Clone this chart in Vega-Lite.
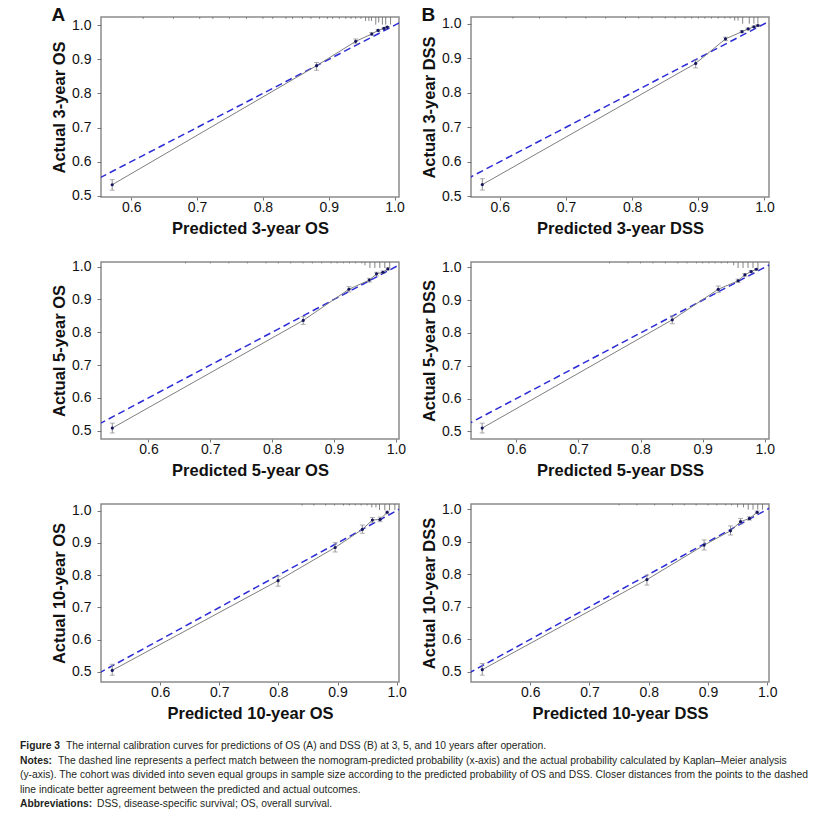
{
  "$schema": "https://vega.github.io/schema/vega-lite/v6.json",
  "padding": {"left": 20, "top": 4, "right": 5, "bottom": 5},
  "background": "white",
  "config": {
    "font": "Liberation Sans",
    "view": {"stroke": "#8c8c8c", "strokeWidth": 1.5},
    "axis": {"grid": false, "domain": false, "labelFont": "Liberation Sans", "labelFontSize": 14, "labelColor": "#111", "tickColor": "#777", "tickSize": 4, "titleFont": "Liberation Sans", "titleFontSize": 16.5, "titleFontWeight": "bold", "titleColor": "#111", "labelOverlap": false, "labelFlush": false},
    "axisX": {"tickSize": 3, "labelPadding": 0, "titlePadding": 6},
    "axisY": {"labelPadding": 6, "titlePadding": 4},
    "title": {"anchor": "start", "frame": "bounds", "fontSize": 19, "fontWeight": "bold", "font": "Liberation Sans", "color": "#111", "baseline": "alphabetic", "offset": -8}
  },
  "datasets": {
    "dash": [{"p": 0.3, "a": 0.3}, {"p": 1.2, "a": 1.2}],
    "pts": [
      {"panel": "A", "p": 0.571, "a": 0.532, "lo": 0.516, "hi": 0.547},
      {"panel": "A", "p": 0.8816, "a": 0.8816, "lo": 0.868, "hi": 0.891},
      {"panel": "A", "p": 0.941, "a": 0.953, "lo": 0.946, "hi": 0.96},
      {"panel": "A", "p": 0.9654, "a": 0.9746, "lo": 0.971, "hi": 0.979},
      {"panel": "A", "p": 0.975, "a": 0.985, "lo": 0.982, "hi": 0.988},
      {"panel": "A", "p": 0.984, "a": 0.991, "lo": 0.989, "hi": 0.993},
      {"panel": "A", "p": 0.989, "a": 0.995, "lo": 0.993, "hi": 0.997},
      {"panel": "B", "p": 0.5736, "a": 0.534, "lo": 0.518, "hi": 0.551},
      {"panel": "B", "p": 0.896, "a": 0.885, "lo": 0.872, "hi": 0.895},
      {"panel": "B", "p": 0.941, "a": 0.956, "lo": 0.951, "hi": 0.961},
      {"panel": "B", "p": 0.966, "a": 0.977, "lo": 0.974, "hi": 0.98},
      {"panel": "B", "p": 0.9753, "a": 0.985, "lo": 0.983, "hi": 0.987},
      {"panel": "B", "p": 0.984, "a": 0.991, "lo": 0.989, "hi": 0.993},
      {"panel": "B", "p": 0.99, "a": 0.995, "lo": 0.993, "hi": 0.997},
      {"panel": "C", "p": 0.5416, "a": 0.508, "lo": 0.493, "hi": 0.523},
      {"panel": "C", "p": 0.8502, "a": 0.836, "lo": 0.824, "hi": 0.848},
      {"panel": "C", "p": 0.924, "a": 0.931, "lo": 0.923, "hi": 0.939},
      {"panel": "C", "p": 0.957, "a": 0.959, "lo": 0.953, "hi": 0.9645},
      {"panel": "C", "p": 0.9686, "a": 0.978, "lo": 0.972, "hi": 0.983},
      {"panel": "C", "p": 0.979, "a": 0.983, "lo": 0.979, "hi": 0.987},
      {"panel": "C", "p": 0.987, "a": 0.993, "lo": 0.99, "hi": 0.996},
      {"panel": "D", "p": 0.545, "a": 0.51, "lo": 0.495, "hi": 0.525},
      {"panel": "D", "p": 0.851, "a": 0.84, "lo": 0.828, "hi": 0.852},
      {"panel": "D", "p": 0.925, "a": 0.933, "lo": 0.923, "hi": 0.943},
      {"panel": "D", "p": 0.957, "a": 0.959, "lo": 0.954, "hi": 0.964},
      {"panel": "D", "p": 0.968, "a": 0.977, "lo": 0.973, "hi": 0.981},
      {"panel": "D", "p": 0.978, "a": 0.987, "lo": 0.984, "hi": 0.99},
      {"panel": "D", "p": 0.9865, "a": 0.994, "lo": 0.992, "hi": 0.996},
      {"panel": "E", "p": 0.519, "a": 0.505, "lo": 0.49, "hi": 0.524},
      {"panel": "E", "p": 0.7995, "a": 0.783, "lo": 0.766, "hi": 0.797},
      {"panel": "E", "p": 0.896, "a": 0.886, "lo": 0.872, "hi": 0.901},
      {"panel": "E", "p": 0.942, "a": 0.942, "lo": 0.93, "hi": 0.9555},
      {"panel": "E", "p": 0.959, "a": 0.971, "lo": 0.964, "hi": 0.979},
      {"panel": "E", "p": 0.972, "a": 0.973, "lo": 0.966, "hi": 0.98},
      {"panel": "E", "p": 0.984, "a": 0.995, "lo": 0.99, "hi": 0.999},
      {"panel": "F", "p": 0.519, "a": 0.507, "lo": 0.49, "hi": 0.526},
      {"panel": "F", "p": 0.797, "a": 0.784, "lo": 0.767, "hi": 0.798},
      {"panel": "F", "p": 0.8935, "a": 0.89, "lo": 0.875, "hi": 0.906},
      {"panel": "F", "p": 0.938, "a": 0.934, "lo": 0.921, "hi": 0.949},
      {"panel": "F", "p": 0.955, "a": 0.962, "lo": 0.955, "hi": 0.972},
      {"panel": "F", "p": 0.97, "a": 0.972, "lo": 0.967, "hi": 0.977},
      {"panel": "F", "p": 0.983, "a": 0.991, "lo": 0.987, "hi": 0.995}
    ],
    "rug": [
      {"panel": "A", "p": 0.618, "a": 1.019}, {"panel": "A", "p": 0.664, "a": 1.019}, {"panel": "A", "p": 0.704, "a": 1.019}, {"panel": "A", "p": 0.724, "a": 1.019}, {"panel": "A", "p": 0.749, "a": 1.019}, {"panel": "A", "p": 0.775, "a": 1.019}, {"panel": "A", "p": 0.8, "a": 1.019}, {"panel": "A", "p": 0.815, "a": 1.019}, {"panel": "A", "p": 0.835, "a": 1.019}, {"panel": "A", "p": 0.845, "a": 1.019}, {"panel": "A", "p": 0.86, "a": 1.019}, {"panel": "A", "p": 0.873, "a": 1.019}, {"panel": "A", "p": 0.886, "a": 1.019}, {"panel": "A", "p": 0.898, "a": 1.019}, {"panel": "A", "p": 0.906, "a": 1.019}, {"panel": "A", "p": 0.916, "a": 1.019}, {"panel": "A", "p": 0.926, "a": 1.019}, {"panel": "A", "p": 0.934, "a": 1.019}, {"panel": "A", "p": 0.941, "a": 1.019}, {"panel": "A", "p": 0.949, "a": 1.019},
      {"panel": "A", "p": 0.956, "a": 1.013}, {"panel": "A", "p": 0.961, "a": 1.013}, {"panel": "A", "p": 0.965, "a": 1.013},
      {"panel": "A", "p": 0.9715, "a": 1.002}, {"panel": "A", "p": 0.976, "a": 1.008}, {"panel": "A", "p": 0.9816, "a": 1.002}, {"panel": "A", "p": 0.9866, "a": 1.002}, {"panel": "A", "p": 0.994, "a": 1.002},
      {"panel": "B", "p": 0.62, "a": 1.015}, {"panel": "B", "p": 0.66, "a": 1.015}, {"panel": "B", "p": 0.7, "a": 1.015}, {"panel": "B", "p": 0.73, "a": 1.015}, {"panel": "B", "p": 0.76, "a": 1.015}, {"panel": "B", "p": 0.79, "a": 1.015}, {"panel": "B", "p": 0.81, "a": 1.015}, {"panel": "B", "p": 0.83, "a": 1.015}, {"panel": "B", "p": 0.85, "a": 1.015}, {"panel": "B", "p": 0.865, "a": 1.015}, {"panel": "B", "p": 0.88, "a": 1.015}, {"panel": "B", "p": 0.89, "a": 1.015}, {"panel": "B", "p": 0.9, "a": 1.015}, {"panel": "B", "p": 0.91, "a": 1.015}, {"panel": "B", "p": 0.92, "a": 1.015}, {"panel": "B", "p": 0.93, "a": 1.015}, {"panel": "B", "p": 0.94, "a": 1.015}, {"panel": "B", "p": 0.948, "a": 1.015},
      {"panel": "B", "p": 0.955, "a": 1.009}, {"panel": "B", "p": 0.96, "a": 1.009},
      {"panel": "B", "p": 0.967, "a": 1.0}, {"panel": "B", "p": 0.977, "a": 1.0}, {"panel": "B", "p": 0.984, "a": 1.0}, {"panel": "B", "p": 0.99, "a": 1.0},
      {"panel": "C", "p": 0.66, "a": 1.01}, {"panel": "C", "p": 0.7, "a": 1.01}, {"panel": "C", "p": 0.73, "a": 1.01}, {"panel": "C", "p": 0.76, "a": 1.01}, {"panel": "C", "p": 0.79, "a": 1.01}, {"panel": "C", "p": 0.81, "a": 1.01}, {"panel": "C", "p": 0.83, "a": 1.01}, {"panel": "C", "p": 0.85, "a": 1.01}, {"panel": "C", "p": 0.865, "a": 1.01}, {"panel": "C", "p": 0.88, "a": 1.01}, {"panel": "C", "p": 0.895, "a": 1.01}, {"panel": "C", "p": 0.905, "a": 1.01}, {"panel": "C", "p": 0.915, "a": 1.01}, {"panel": "C", "p": 0.925, "a": 1.01}, {"panel": "C", "p": 0.935, "a": 1.01}, {"panel": "C", "p": 0.945, "a": 1.01},
      {"panel": "C", "p": 0.95, "a": 1.004},
      {"panel": "C", "p": 0.958, "a": 0.996}, {"panel": "C", "p": 0.966, "a": 0.996}, {"panel": "C", "p": 0.974, "a": 0.996}, {"panel": "C", "p": 0.982, "a": 0.996}, {"panel": "C", "p": 0.99, "a": 0.996},
      {"panel": "D", "p": 0.75, "a": 1.012}, {"panel": "D", "p": 0.78, "a": 1.012}, {"panel": "D", "p": 0.8, "a": 1.012}, {"panel": "D", "p": 0.82, "a": 1.012}, {"panel": "D", "p": 0.84, "a": 1.012}, {"panel": "D", "p": 0.86, "a": 1.012}, {"panel": "D", "p": 0.875, "a": 1.012}, {"panel": "D", "p": 0.89, "a": 1.012}, {"panel": "D", "p": 0.9, "a": 1.012}, {"panel": "D", "p": 0.91, "a": 1.012}, {"panel": "D", "p": 0.92, "a": 1.012}, {"panel": "D", "p": 0.93, "a": 1.012}, {"panel": "D", "p": 0.94, "a": 1.012}, {"panel": "D", "p": 0.95, "a": 1.006},
      {"panel": "D", "p": 0.957, "a": 0.998}, {"panel": "D", "p": 0.965, "a": 0.998}, {"panel": "D", "p": 0.973, "a": 0.998}, {"panel": "D", "p": 0.981, "a": 0.998}, {"panel": "D", "p": 0.989, "a": 0.998},
      {"panel": "E", "p": 0.84, "a": 1.016}, {"panel": "E", "p": 0.86, "a": 1.016}, {"panel": "E", "p": 0.88, "a": 1.016}, {"panel": "E", "p": 0.895, "a": 1.016}, {"panel": "E", "p": 0.91, "a": 1.016}, {"panel": "E", "p": 0.92, "a": 1.016}, {"panel": "E", "p": 0.93, "a": 1.016}, {"panel": "E", "p": 0.94, "a": 1.016}, {"panel": "E", "p": 0.95, "a": 1.016}, {"panel": "E", "p": 0.958, "a": 1.01}, {"panel": "E", "p": 0.965, "a": 1.01},
      {"panel": "E", "p": 0.971, "a": 1.002}, {"panel": "E", "p": 0.98, "a": 1.002}, {"panel": "E", "p": 0.988, "a": 1.002}, {"panel": "E", "p": 0.997, "a": 1.002},
      {"panel": "F", "p": 0.75, "a": 1.012}, {"panel": "F", "p": 0.78, "a": 1.012}, {"panel": "F", "p": 0.81, "a": 1.012}, {"panel": "F", "p": 0.84, "a": 1.012}, {"panel": "F", "p": 0.86, "a": 1.012}, {"panel": "F", "p": 0.88, "a": 1.012}, {"panel": "F", "p": 0.9, "a": 1.012}, {"panel": "F", "p": 0.915, "a": 1.012}, {"panel": "F", "p": 0.93, "a": 1.012}, {"panel": "F", "p": 0.94, "a": 1.012}, {"panel": "F", "p": 0.95, "a": 1.006}, {"panel": "F", "p": 0.96, "a": 1.006},
      {"panel": "F", "p": 0.968, "a": 0.999}, {"panel": "F", "p": 0.976, "a": 0.999}, {"panel": "F", "p": 0.984, "a": 0.999}, {"panel": "F", "p": 0.992, "a": 0.999}
    ],
    "cap": [
      {"line": 1, "lead": "Figure 3", "rest": "The internal calibration curves for predictions of OS (A) and DSS (B) at 3, 5, and 10 years after operation."},
      {"line": 2, "lead": "Notes:", "rest": "The dashed line represents a perfect match between the nomogram-predicted probability (x-axis) and the actual probability calculated by Kaplan–Meier analysis"},
      {"line": 3, "lead": "", "rest": "(y-axis). The cohort was divided into seven equal groups in sample size according to the predicted probability of OS and DSS. Closer distances from the points to the dashed"},
      {"line": 4, "lead": "", "rest": "line indicate better agreement between the predicted and actual outcomes."},
      {"line": 5, "lead": "Abbreviations:", "rest": "DSS, disease-specific survival; OS, overall survival."}
    ]
  },
  "columns": 2,
  "spacing": {"row": 65, "column": 72},
  "bounds": "flush",
  "align": "each",
  "concat": [
    {
      "width": 298, "height": 180,
      "title": {"text": "A"},
      "encoding": {
        "x": {"field": "p", "type": "quantitative", "title": "Predicted 3-year OS", "scale": {"domain": [0.554, 1.0068], "nice": false, "zero": false}, "axis": {"values": [0.6, 0.7, 0.8, 0.9, 1.0], "format": ".1f"}},
        "y": {"field": "a", "type": "quantitative", "title": "Actual 3-year OS", "scale": {"domain": [0.496, 1.0245], "nice": false, "zero": false}, "axis": {"values": [0.5, 0.6, 0.7, 0.8, 0.9, 1.0], "format": ".1f"}}
      },
      "layer": [
        {"data": {"name": "rug"}, "transform": [{"filter": "datum.panel === 'A'"}], "mark": {"type": "rule", "color": "#666", "strokeWidth": 0.8, "clip": true}, "encoding": {"y2": {"datum": 1.0245}}},
        {"data": {"name": "dash"}, "mark": {"type": "line", "color": "#2b2bd6", "strokeWidth": 1.5, "strokeDash": [7, 4], "clip": true}},
        {"data": {"name": "pts"}, "transform": [{"filter": "datum.panel === 'A'"}], "mark": {"type": "line", "color": "#7f7f7f", "strokeWidth": 1}},
        {"data": {"name": "pts"}, "transform": [{"filter": "datum.panel === 'A'"}, {"fold": ["lo", "hi"], "as": ["end", "a"]}], "mark": {"type": "line", "color": "#8f8f8f", "strokeWidth": 1}, "encoding": {"detail": {"field": "p", "type": "nominal"}}},
        {"data": {"name": "pts"}, "transform": [{"filter": "datum.panel === 'A'"}, {"fold": ["lo", "hi"], "as": ["end", "a"]}], "mark": {"type": "tick", "orient": "horizontal", "color": "#8f8f8f", "size": 5, "thickness": 1}},
        {"data": {"name": "pts"}, "transform": [{"filter": "datum.panel === 'A'"}], "mark": {"type": "point", "filled": true, "color": "#15155e", "size": 10, "opacity": 1}}
      ]
    },
    {
      "width": 298, "height": 180,
      "title": {"text": "B"},
      "encoding": {
        "x": {"field": "p", "type": "quantitative", "title": "Predicted 3-year DSS", "scale": {"domain": [0.5565, 1.0068], "nice": false, "zero": false}, "axis": {"values": [0.6, 0.7, 0.8, 0.9, 1.0], "format": ".1f"}},
        "y": {"field": "a", "type": "quantitative", "title": "Actual 3-year DSS", "scale": {"domain": [0.498, 1.0195], "nice": false, "zero": false}, "axis": {"values": [0.5, 0.6, 0.7, 0.8, 0.9, 1.0], "format": ".1f"}}
      },
      "layer": [
        {"data": {"name": "rug"}, "transform": [{"filter": "datum.panel === 'B'"}], "mark": {"type": "rule", "color": "#666", "strokeWidth": 0.8, "clip": true}, "encoding": {"y2": {"datum": 1.0195}}},
        {"data": {"name": "dash"}, "mark": {"type": "line", "color": "#2b2bd6", "strokeWidth": 1.5, "strokeDash": [7, 4], "clip": true}},
        {"data": {"name": "pts"}, "transform": [{"filter": "datum.panel === 'B'"}], "mark": {"type": "line", "color": "#7f7f7f", "strokeWidth": 1}},
        {"data": {"name": "pts"}, "transform": [{"filter": "datum.panel === 'B'"}, {"fold": ["lo", "hi"], "as": ["end", "a"]}], "mark": {"type": "line", "color": "#8f8f8f", "strokeWidth": 1}, "encoding": {"detail": {"field": "p", "type": "nominal"}}},
        {"data": {"name": "pts"}, "transform": [{"filter": "datum.panel === 'B'"}, {"fold": ["lo", "hi"], "as": ["end", "a"]}], "mark": {"type": "tick", "orient": "horizontal", "color": "#8f8f8f", "size": 5, "thickness": 1}},
        {"data": {"name": "pts"}, "transform": [{"filter": "datum.panel === 'B'"}], "mark": {"type": "point", "filled": true, "color": "#15155e", "size": 10, "opacity": 1}}
      ]
    },
    {
      "width": 298, "height": 177,
      "encoding": {
        "x": {"field": "p", "type": "quantitative", "title": "Predicted 5-year OS", "scale": {"domain": [0.5233, 1.005], "nice": false, "zero": false}, "axis": {"values": [0.6, 0.7, 0.8, 0.9, 1.0], "format": ".1f"}},
        "y": {"field": "a", "type": "quantitative", "title": "Actual 5-year OS", "scale": {"domain": [0.4746, 1.0142], "nice": false, "zero": false}, "axis": {"values": [0.5, 0.6, 0.7, 0.8, 0.9, 1.0], "format": ".1f"}}
      },
      "layer": [
        {"data": {"name": "rug"}, "transform": [{"filter": "datum.panel === 'C'"}], "mark": {"type": "rule", "color": "#666", "strokeWidth": 0.8, "clip": true}, "encoding": {"y2": {"datum": 1.0142}}},
        {"data": {"name": "dash"}, "mark": {"type": "line", "color": "#2b2bd6", "strokeWidth": 1.5, "strokeDash": [7, 4], "clip": true}},
        {"data": {"name": "pts"}, "transform": [{"filter": "datum.panel === 'C'"}], "mark": {"type": "line", "color": "#7f7f7f", "strokeWidth": 1}},
        {"data": {"name": "pts"}, "transform": [{"filter": "datum.panel === 'C'"}, {"fold": ["lo", "hi"], "as": ["end", "a"]}], "mark": {"type": "line", "color": "#8f8f8f", "strokeWidth": 1}, "encoding": {"detail": {"field": "p", "type": "nominal"}}},
        {"data": {"name": "pts"}, "transform": [{"filter": "datum.panel === 'C'"}, {"fold": ["lo", "hi"], "as": ["end", "a"]}], "mark": {"type": "tick", "orient": "horizontal", "color": "#8f8f8f", "size": 5, "thickness": 1}},
        {"data": {"name": "pts"}, "transform": [{"filter": "datum.panel === 'C'"}], "mark": {"type": "point", "filled": true, "color": "#15155e", "size": 10, "opacity": 1}}
      ]
    },
    {
      "width": 298, "height": 177,
      "encoding": {
        "x": {"field": "p", "type": "quantitative", "title": "Predicted 5-year DSS", "scale": {"domain": [0.527, 1.0068], "nice": false, "zero": false}, "axis": {"values": [0.6, 0.7, 0.8, 0.9, 1.0], "format": ".1f"}},
        "y": {"field": "a", "type": "quantitative", "title": "Actual 5-year DSS", "scale": {"domain": [0.4767, 1.0162], "nice": false, "zero": false}, "axis": {"values": [0.5, 0.6, 0.7, 0.8, 0.9, 1.0], "format": ".1f"}}
      },
      "layer": [
        {"data": {"name": "rug"}, "transform": [{"filter": "datum.panel === 'D'"}], "mark": {"type": "rule", "color": "#666", "strokeWidth": 0.8, "clip": true}, "encoding": {"y2": {"datum": 1.0162}}},
        {"data": {"name": "dash"}, "mark": {"type": "line", "color": "#2b2bd6", "strokeWidth": 1.5, "strokeDash": [7, 4], "clip": true}},
        {"data": {"name": "pts"}, "transform": [{"filter": "datum.panel === 'D'"}], "mark": {"type": "line", "color": "#7f7f7f", "strokeWidth": 1}},
        {"data": {"name": "pts"}, "transform": [{"filter": "datum.panel === 'D'"}, {"fold": ["lo", "hi"], "as": ["end", "a"]}], "mark": {"type": "line", "color": "#8f8f8f", "strokeWidth": 1}, "encoding": {"detail": {"field": "p", "type": "nominal"}}},
        {"data": {"name": "pts"}, "transform": [{"filter": "datum.panel === 'D'"}, {"fold": ["lo", "hi"], "as": ["end", "a"]}], "mark": {"type": "tick", "orient": "horizontal", "color": "#8f8f8f", "size": 5, "thickness": 1}},
        {"data": {"name": "pts"}, "transform": [{"filter": "datum.panel === 'D'"}], "mark": {"type": "point", "filled": true, "color": "#15155e", "size": 10, "opacity": 1}}
      ]
    },
    {
      "width": 298, "height": 178,
      "encoding": {
        "x": {"field": "p", "type": "quantitative", "title": "Predicted 10-year OS", "scale": {"domain": [0.5, 1.004], "nice": false, "zero": false}, "axis": {"values": [0.6, 0.7, 0.8, 0.9, 1.0], "format": ".1f"}},
        "y": {"field": "a", "type": "quantitative", "title": "Actual 10-year OS", "scale": {"domain": [0.469, 1.0207], "nice": false, "zero": false}, "axis": {"values": [0.5, 0.6, 0.7, 0.8, 0.9, 1.0], "format": ".1f"}}
      },
      "layer": [
        {"data": {"name": "rug"}, "transform": [{"filter": "datum.panel === 'E'"}], "mark": {"type": "rule", "color": "#666", "strokeWidth": 0.8, "clip": true}, "encoding": {"y2": {"datum": 1.0207}}},
        {"data": {"name": "dash"}, "mark": {"type": "line", "color": "#2b2bd6", "strokeWidth": 1.5, "strokeDash": [7, 4], "clip": true}},
        {"data": {"name": "pts"}, "transform": [{"filter": "datum.panel === 'E'"}], "mark": {"type": "line", "color": "#7f7f7f", "strokeWidth": 1}},
        {"data": {"name": "pts"}, "transform": [{"filter": "datum.panel === 'E'"}, {"fold": ["lo", "hi"], "as": ["end", "a"]}], "mark": {"type": "line", "color": "#8f8f8f", "strokeWidth": 1}, "encoding": {"detail": {"field": "p", "type": "nominal"}}},
        {"data": {"name": "pts"}, "transform": [{"filter": "datum.panel === 'E'"}, {"fold": ["lo", "hi"], "as": ["end", "a"]}], "mark": {"type": "tick", "orient": "horizontal", "color": "#8f8f8f", "size": 5, "thickness": 1}},
        {"data": {"name": "pts"}, "transform": [{"filter": "datum.panel === 'E'"}], "mark": {"type": "point", "filled": true, "color": "#15155e", "size": 10, "opacity": 1}}
      ]
    },
    {
      "width": 298, "height": 178,
      "encoding": {
        "x": {"field": "p", "type": "quantitative", "title": "Predicted 10-year DSS", "scale": {"domain": [0.5, 1.003], "nice": false, "zero": false}, "axis": {"values": [0.6, 0.7, 0.8, 0.9, 1.0], "format": ".1f"}},
        "y": {"field": "a", "type": "quantitative", "title": "Actual 10-year DSS", "scale": {"domain": [0.469, 1.0164], "nice": false, "zero": false}, "axis": {"values": [0.5, 0.6, 0.7, 0.8, 0.9, 1.0], "format": ".1f"}}
      },
      "layer": [
        {"data": {"name": "rug"}, "transform": [{"filter": "datum.panel === 'F'"}], "mark": {"type": "rule", "color": "#666", "strokeWidth": 0.8, "clip": true}, "encoding": {"y2": {"datum": 1.0164}}},
        {"data": {"name": "dash"}, "mark": {"type": "line", "color": "#2b2bd6", "strokeWidth": 1.5, "strokeDash": [7, 4], "clip": true}},
        {"data": {"name": "pts"}, "transform": [{"filter": "datum.panel === 'F'"}], "mark": {"type": "line", "color": "#7f7f7f", "strokeWidth": 1}},
        {"data": {"name": "pts"}, "transform": [{"filter": "datum.panel === 'F'"}, {"fold": ["lo", "hi"], "as": ["end", "a"]}], "mark": {"type": "line", "color": "#8f8f8f", "strokeWidth": 1}, "encoding": {"detail": {"field": "p", "type": "nominal"}}},
        {"data": {"name": "pts"}, "transform": [{"filter": "datum.panel === 'F'"}, {"fold": ["lo", "hi"], "as": ["end", "a"]}], "mark": {"type": "tick", "orient": "horizontal", "color": "#8f8f8f", "size": 5, "thickness": 1}},
        {"data": {"name": "pts"}, "transform": [{"filter": "datum.panel === 'F'"}], "mark": {"type": "point", "filled": true, "color": "#15155e", "size": 10, "opacity": 1}}
      ]
    },
    {
      "width": 298, "height": 58,
      "view": {"stroke": null},
      "data": {"name": "cap"},
      "encoding": {"y": {"field": "line", "type": "ordinal", "scale": {"type": "point", "padding": 0}, "axis": null}},
      "layer": [
        {"mark": {"type": "text", "align": "left", "baseline": "middle", "font": "Liberation Sans", "fontSize": 10.3, "fontWeight": "bold", "color": "#231f20", "dx": -81, "dy": -1}, "encoding": {"x": {"value": 0}, "text": {"field": "lead"}}},
        {"transform": [{"filter": "datum.line === 1"}], "mark": {"type": "text", "align": "left", "baseline": "middle", "font": "Liberation Sans", "fontSize": 10.3, "color": "#231f20", "dx": -35, "dy": -1}, "encoding": {"x": {"value": 0}, "text": {"field": "rest"}}},
        {"transform": [{"filter": "datum.line === 2"}], "mark": {"type": "text", "align": "left", "baseline": "middle", "font": "Liberation Sans", "fontSize": 10.3, "color": "#231f20", "dx": -43, "dy": -1}, "encoding": {"x": {"value": 0}, "text": {"field": "rest"}}},
        {"transform": [{"filter": "datum.line === 3 || datum.line === 4"}], "mark": {"type": "text", "align": "left", "baseline": "middle", "font": "Liberation Sans", "fontSize": 10.3, "color": "#231f20", "dx": -81, "dy": -1}, "encoding": {"x": {"value": 0}, "text": {"field": "rest"}}},
        {"transform": [{"filter": "datum.line === 5"}], "mark": {"type": "text", "align": "left", "baseline": "middle", "font": "Liberation Sans", "fontSize": 10.3, "color": "#231f20", "dx": -4, "dy": -1}, "encoding": {"x": {"value": 0}, "text": {"field": "rest"}}}
      ]
    }
  ]
}
